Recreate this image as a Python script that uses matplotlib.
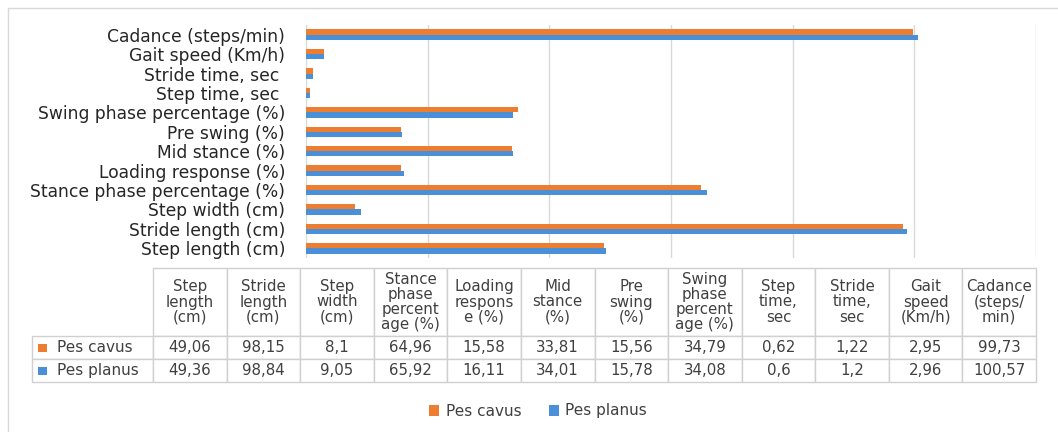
import matplotlib
matplotlib.use("Agg")
import matplotlib.pyplot as plt
import numpy as np
from matplotlib.table import Table
from matplotlib.patches import Patch, Rectangle
from matplotlib.lines import Line2D

plt.rcParams['font.family'] = ['DejaVu Sans']

categories = ["Step length (cm)", "Stride length (cm)", "Step width (cm)",
              "Stance phase percentage (%)", "Loading response (%)", "Mid stance (%)",
              "Pre swing (%)", "Swing phase percentage (%)", "Step time, sec ",
              "Stride time, sec ", "Gait speed (Km/h)", "Cadance (steps/min)"]
table_headers = ["Step\nlength\n(cm)", "Stride\nlength\n(cm)", "Step\nwidth\n(cm)",
                 "Stance\nphase\npercent\nage (%)", "Loading\nrespons\ne (%)", "Mid\nstance\n(%)",
                 "Pre\nswing\n(%)", "Swing\nphase\npercent\nage (%)", "Step\ntime,\nsec",
                 "Stride\ntime,\nsec", "Gait\nspeed\n(Km/h)", "Cadance\n(steps/\nmin)"]
pes_cavus = [49.06, 98.15, 8.1, 64.96, 15.58, 33.81, 15.56, 34.79, 0.62, 1.22, 2.95, 99.73]
pes_planus = [49.36, 98.84, 9.05, 65.92, 16.11, 34.01, 15.78, 34.08, 0.6, 1.2, 2.96, 100.57]
series_names = ["Pes cavus", "Pes planus"]
colors = ["#ED7D31", "#4A90D9"]

W, H = 1058, 432
fig = plt.figure(figsize=(W / 100, H / 100), dpi=100)

def fx(px):
    return px / W

def fy(py):
    return 1 - py / H

# outer frame (left and top edges visible)
fig.add_artist(Line2D([fx(7.5), fx(7.5)], [0, fy(8)], transform=fig.transFigure,
                      color="#D9D9D9", linewidth=1.0))
fig.add_artist(Line2D([fx(7.5), 1], [fy(8), fy(8)], transform=fig.transFigure,
                      color="#D9D9D9", linewidth=1.0))

ax = fig.add_axes([fx(306), fy(258), fx(1036) - fx(306), fy(25) - fy(258)])
y = np.arange(len(categories))
bh = 0.27
ax.barh(y + bh / 2, pes_cavus, height=bh, color=colors[0], zorder=3)
ax.barh(y - bh / 2, pes_planus, height=bh, color=colors[1], zorder=3)
ax.set_xlim(0, 120)
ax.set_ylim(-0.5, 11.5)
ax.set_xticks(np.arange(0, 121, 20))
ax.xaxis.grid(True, color="#D9D9D9", linewidth=1.0, zorder=0)
ax.tick_params(axis='x', length=0, labelbottom=False)
ax.tick_params(axis='y', length=0, pad=15, labelsize=12.3, labelcolor="#262626")
ax.set_yticks(y)
ax.set_yticklabels(categories)
for s in ax.spines.values():
    s.set_visible(False)

# data table
tax = fig.add_axes([fx(32), fy(382), fx(1036) - fx(32), fy(268) - fy(382)])
tax.axis('off')
tbl = Table(tax, bbox=[0, 0, 1, 1])
total_w = 1036 - 32
lab_w = (153 - 32) / total_w
col_w = (1 - lab_w) / len(categories)
total_h = 382 - 268
head_h = (336 - 268) / total_h
row_h = (1 - head_h) / 2
edge = "#D0D0D0"
txtc = "#404040"
c = tbl.add_cell(0, 0, lab_w, head_h, text="")
c.visible_edges = ""
for j, h in enumerate(table_headers):
    c = tbl.add_cell(0, j + 1, col_w, head_h, text=h, loc='center')
    c.set_edgecolor(edge)
    c.get_text().set_linespacing(1.02)
rows = [pes_cavus, pes_planus]
for i, (name, vals) in enumerate(zip(series_names, rows)):
    c = tbl.add_cell(i + 1, 0, lab_w, row_h, text="", loc='left')
    c.set_edgecolor(edge)
    for j, v in enumerate(vals):
        c = tbl.add_cell(i + 1, j + 1, col_w, row_h, text=str(v).replace('.', ','), loc='center')
        c.set_edgecolor(edge)
tbl.auto_set_font_size(False)
tbl.set_fontsize(10.8)
for cell in tbl.get_celld().values():
    cell.get_text().set_color(txtc)
    cell.set_linewidth(1.0)
tax.add_table(tbl)
# legend keys in table
for i, (col, name) in enumerate(zip(colors, series_names)):
    yc = 1 - head_h - row_h * (i + 0.5)
    tax.add_patch(Rectangle(((38 - 32) / total_w, yc - 4 / total_h), 8.5 / total_w, 8 / total_h,
                            transform=tax.transAxes, facecolor=col, edgecolor='none', clip_on=False))
    tax.text((57 - 32) / total_w, yc, name, transform=tax.transAxes, ha='left', va='center',
             fontsize=11, color=txtc)

handles = [Patch(facecolor=colors[0]), Patch(facecolor=colors[1])]
fig.legend(handles, series_names, loc='center', bbox_to_anchor=(fx(538), fy(411)), ncol=2,
           frameon=False, fontsize=11, handlelength=0.7, handleheight=0.7, handletextpad=0.4,
           columnspacing=1.8, labelcolor=txtc)

fig.savefig("out.png", dpi=100)
